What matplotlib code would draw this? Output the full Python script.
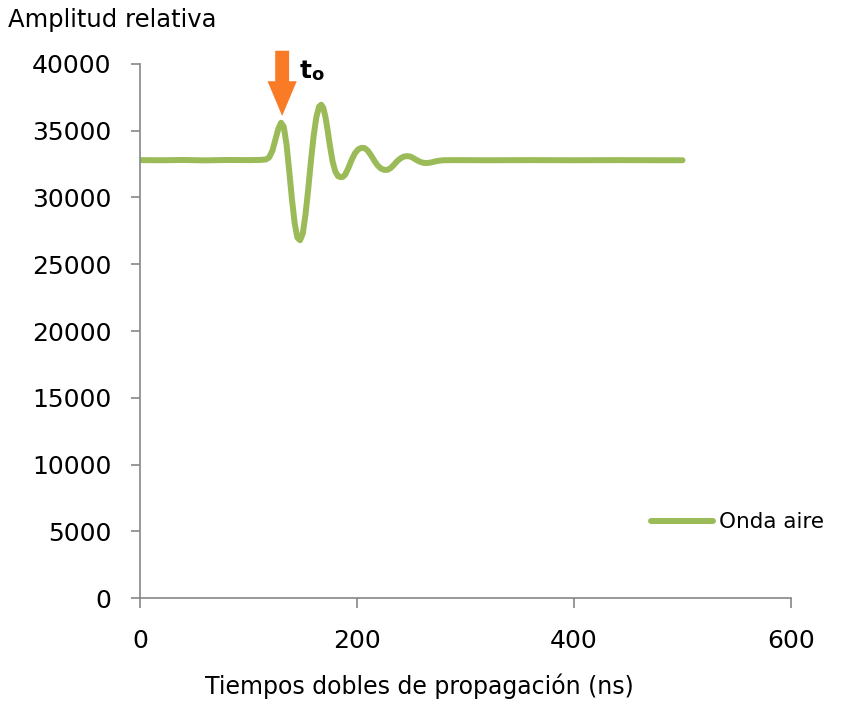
import matplotlib
matplotlib.use('Agg')
import matplotlib.pyplot as plt

# Tiempo (ns) y amplitud
tiempo = [0, 20, 40, 60, 80, 100, 110, 116, 119, 122, 125, 127.5, 130, 132.5, 135, 137.5,
          140, 142.5, 145, 147.5, 150, 152.5, 155, 157.5, 160, 162.5, 165, 167, 169, 171,
          173, 175, 177.5, 180, 182.5, 185, 187, 189, 192, 195, 198, 201, 204, 207, 210,
          213, 216, 219, 222, 225, 228, 231, 234, 237, 240, 243, 246, 249, 252, 255, 258,
          261, 264, 268, 272, 276, 280, 290, 320, 360, 400, 440, 480, 500]
amplitud = [32800, 32790, 32810, 32780, 32810, 32800, 32810, 32850, 33000, 33500, 34400,
            35150, 35600, 35300, 34000, 32000, 29900, 28100, 27000, 26800, 27300, 28700,
            30600, 32700, 34600, 36000, 36800, 36950, 36700, 36000, 35000, 33900, 32700,
            31950, 31600, 31520, 31550, 31700, 32200, 32800, 33300, 33600, 33720, 33700,
            33500, 33150, 32750, 32400, 32170, 32070, 32070, 32200, 32450, 32720, 32930,
            33060, 33100, 33070, 32950, 32800, 32680, 32600, 32580, 32620, 32700, 32760,
            32790, 32800, 32790, 32800, 32790, 32800, 32790, 32790]

t0_tiempo = 131
t0_amplitud = 35900
serie = 'Onda aire'

verde = '#9BBB59'
naranja = '#F97B26'
gris = '#868686'

fig = plt.figure(figsize=(8.48, 7.11), dpi=100)
ax = fig.add_axes([0.1651, 0.1589, 0.7677, 0.7511])

ax.plot(tiempo, amplitud, color=verde, linewidth=4.3, solid_capstyle='round',
        solid_joinstyle='round', label=serie)

ax.set_xlim(0, 600)
ax.set_ylim(0, 40000)
ax.set_xticks([0, 200, 400, 600])
ax.set_yticks(range(0, 40001, 5000))

for s in ['top', 'right']:
    ax.spines[s].set_visible(False)
for s in ['left', 'bottom']:
    ax.spines[s].set_color(gris)
    ax.spines[s].set_linewidth(1.2)
ax.tick_params(axis='y', direction='out', length=6.5, width=1.2, color=gris, pad=14, labelsize=18)
ax.tick_params(axis='x', direction='out', length=7, width=1.2, color=gris, pad=15, labelsize=18)

ax.set_xlabel('Tiempos dobles de propagación (ns)', fontsize=17)
# la etiqueta del eje x no está centrada en el eje en el original
ax.xaxis.set_label_coords(0.4286, -0.142)
fig.text(0.009, 0.972, 'Amplitud relativa', fontsize=17.5, ha='left', va='center')

# flecha de t0
ax.annotate('', xy=(t0_tiempo, t0_amplitud), xytext=(t0_tiempo, 41200),
            arrowprops=dict(arrowstyle='simple,head_length=1.25,head_width=1.05,tail_width=0.5',
                            mutation_scale=20, color=naranja, lw=0),
            annotation_clip=False)
ax.text(147, 39450, 't', fontsize=18, fontweight='bold', ha='left', va='center')
ax.text(158, 39150, 'o', fontsize=13, fontweight='bold', ha='left', va='center')

ax.legend(loc='center left', bbox_to_anchor=(0.771, 0.142), frameon=False, fontsize=15.5,
          handlelength=2.9, handletextpad=0.28, borderaxespad=0)

fig.savefig('out.png', dpi=100)
